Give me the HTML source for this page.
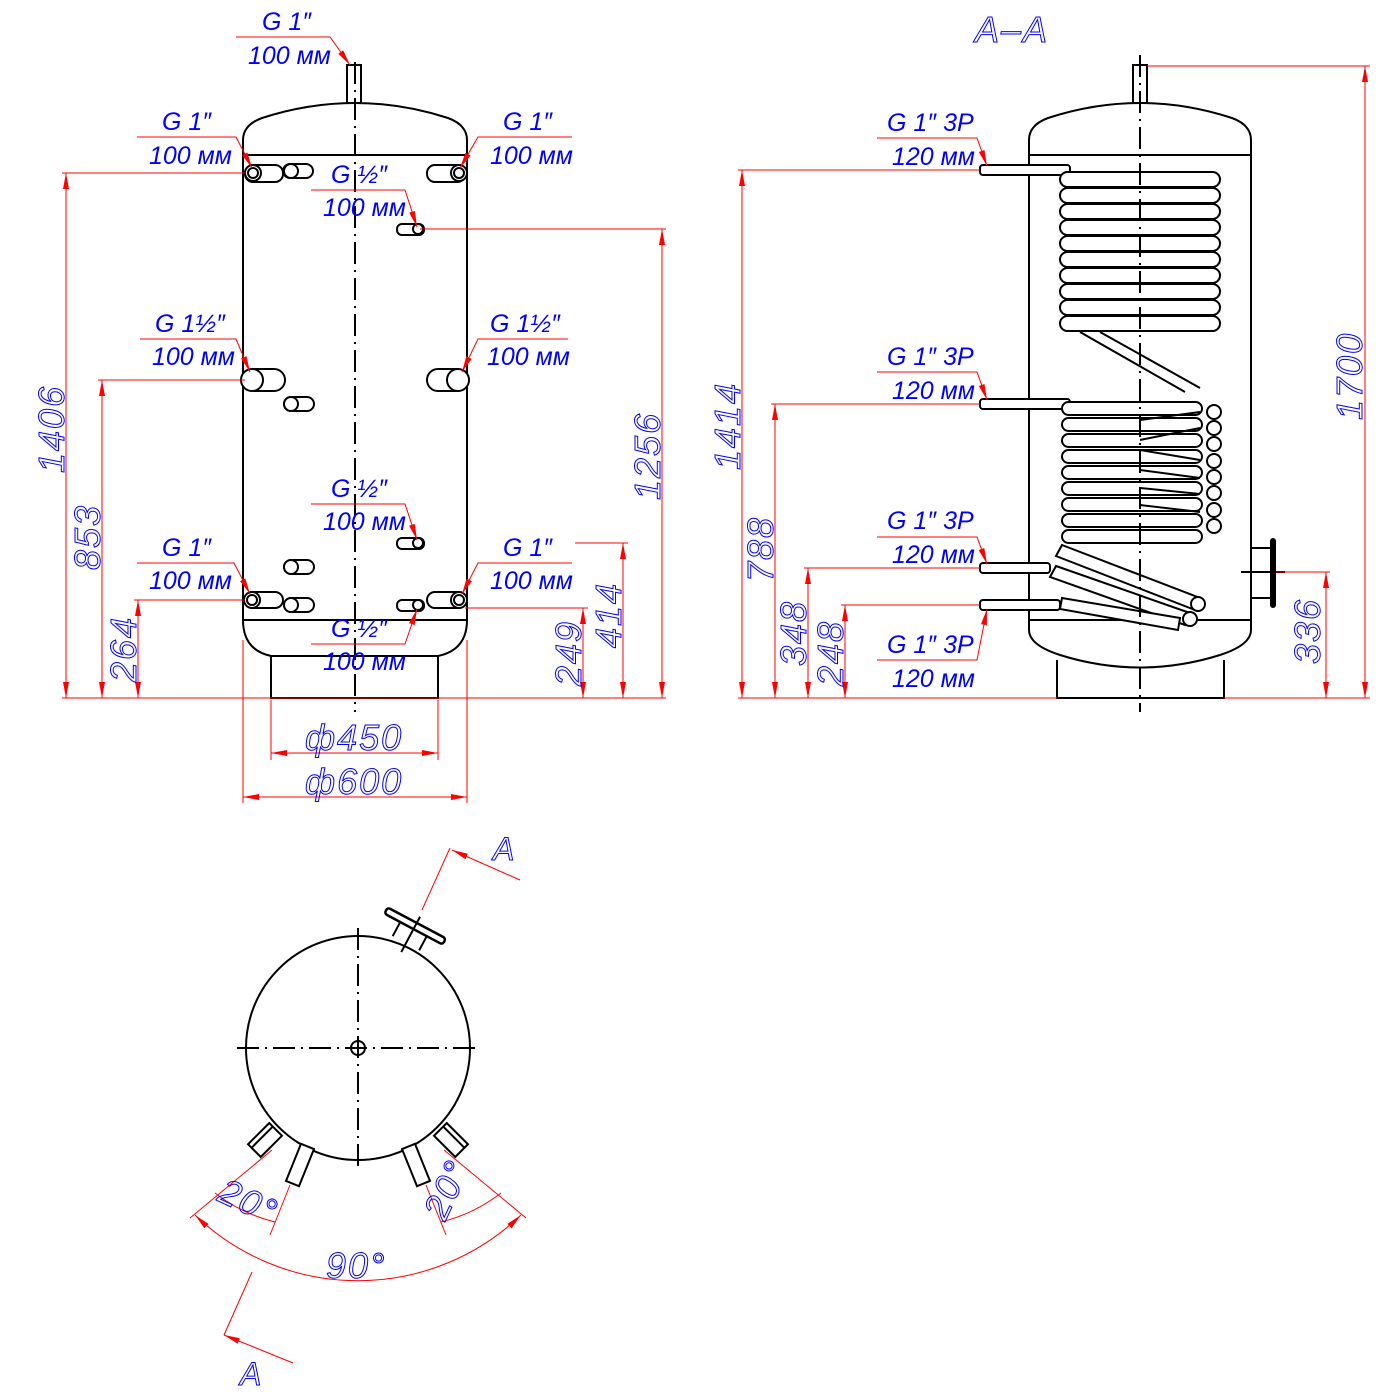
<!DOCTYPE html>
<html><head><meta charset="utf-8"><style>
html,body{margin:0;padding:0;background:#fff}
svg{display:block}
.k{stroke:#000;fill:none;stroke-width:2}
.kf{stroke:#000;fill:#fff;stroke-width:2}
.c{stroke:#000;stroke-width:2;stroke-dasharray:22 6 2 6;fill:none}
.r{stroke:#f00;stroke-width:1;fill:none}
.t{font-family:"Liberation Sans",sans-serif;font-style:italic;fill:#00f;font-size:25px}
.d{font-family:"Liberation Sans",sans-serif;font-style:italic;fill:none;stroke:#00f;stroke-width:1;font-size:36px;letter-spacing:2px}
</style></head><body>
<svg width="1400" height="1400" viewBox="0 0 1400 1400" xmlns="http://www.w3.org/2000/svg">
<defs>
<marker id="a" viewBox="0 0 16 6" refX="16" refY="3" markerWidth="16" markerHeight="6" orient="auto-start-reverse" markerUnits="userSpaceOnUse"><path d="M0,0L16,3L0,6z" fill="#f00"/></marker>
</defs>

<!-- ============ LEFT VIEW ============ -->
<path class="k" d="M243,620 V140 Q243,125 262,118 Q355,88 448,118 Q467,125 467,140 V620"/>
<line class="k" x1="243" y1="155" x2="467" y2="155"/>
<line class="k" x1="243" y1="620" x2="467" y2="620"/>
<path class="k" d="M243,620 Q243,650 271,656 L438,656 Q467,650 467,620"/>
<rect class="k" x="271" y="656" width="167" height="42"/>
<rect class="kf" x="347" y="65" width="14" height="38"/>
<line class="c" x1="355" y1="62" x2="355" y2="712"/>

<g class="kf">
<rect x="245" y="165" width="38" height="17" rx="8"/><circle cx="253" cy="173" r="8"/><circle cx="253" cy="173" r="5"/>
<rect x="283" y="164" width="30" height="14" rx="7"/><circle cx="291" cy="171" r="7"/>
<rect x="427" y="165" width="38" height="17" rx="8"/><circle cx="459" cy="173" r="8"/><circle cx="459" cy="173" r="5"/>
<rect x="397" y="224" width="27" height="11" rx="5"/><circle cx="418" cy="229" r="5"/>
<rect x="245" y="369" width="40" height="22" rx="11"/><circle cx="252" cy="380" r="11"/>
<rect x="427" y="369" width="40" height="22" rx="11"/><circle cx="458" cy="380" r="11"/>
<rect x="284" y="397" width="30" height="14" rx="7"/><circle cx="291" cy="404" r="7"/>
<rect x="397" y="538" width="27" height="11" rx="5"/><circle cx="418" cy="543" r="5"/>
<rect x="284" y="560" width="30" height="14" rx="7"/><circle cx="291" cy="567" r="7"/>
<rect x="245" y="592" width="38" height="16" rx="8"/><circle cx="252" cy="600" r="8"/><circle cx="252" cy="600" r="5"/>
<rect x="284" y="598" width="30" height="14" rx="7"/><circle cx="291" cy="605" r="7"/>
<rect x="397" y="600" width="27" height="11" rx="5"/><circle cx="418" cy="605" r="5"/>
<rect x="427" y="592" width="38" height="16" rx="8"/><circle cx="459" cy="600" r="8"/><circle cx="459" cy="600" r="5"/>
</g>

<g class="r">
<line x1="62" y1="698" x2="666" y2="698"/>
<line x1="62" y1="173" x2="245" y2="173"/>
<line x1="98" y1="380" x2="245" y2="380"/>
<line x1="134" y1="600" x2="245" y2="600"/>
<line x1="420" y1="229" x2="666" y2="229"/>
<line x1="575" y1="543" x2="628" y2="543"/>
<line x1="465" y1="608" x2="588" y2="608"/>
<line x1="66" y1="173" x2="66" y2="698" marker-start="url(#a)" marker-end="url(#a)"/>
<line x1="102" y1="380" x2="102" y2="698" marker-start="url(#a)" marker-end="url(#a)"/>
<line x1="138" y1="600" x2="138" y2="698" marker-start="url(#a)" marker-end="url(#a)"/>
<line x1="583" y1="608" x2="583" y2="698" marker-start="url(#a)" marker-end="url(#a)"/>
<line x1="623" y1="543" x2="623" y2="698" marker-start="url(#a)" marker-end="url(#a)"/>
<line x1="662" y1="229" x2="662" y2="698" marker-start="url(#a)" marker-end="url(#a)"/>
<line x1="271" y1="700" x2="271" y2="760"/><line x1="438" y1="700" x2="438" y2="760"/>
<line x1="243" y1="640" x2="243" y2="803"/><line x1="467" y1="640" x2="467" y2="803"/>
<line x1="271" y1="753" x2="438" y2="753" marker-start="url(#a)" marker-end="url(#a)"/>
<line x1="243" y1="797" x2="467" y2="797" marker-start="url(#a)" marker-end="url(#a)"/>
<polyline points="236,37 330,37 350,65" marker-end="url(#a)"/>
<polyline points="137,137 236,137 252,168" marker-end="url(#a)"/>
<polyline points="572,137 478,137 460,168" marker-end="url(#a)"/>
<polyline points="311,190 405,190 417,227" marker-end="url(#a)"/>
<polyline points="140,339 236,339 250,372" marker-end="url(#a)"/>
<polyline points="568,339 478,339 462,372" marker-end="url(#a)"/>
<polyline points="311,504 405,504 417,540" marker-end="url(#a)"/>
<polyline points="137,563 234,563 250,594" marker-end="url(#a)"/>
<polyline points="572,563 478,563 462,594" marker-end="url(#a)"/>
<polyline points="311,644 405,644 417,609" marker-end="url(#a)"/>
</g>
<g class="t">
<text x="262" y="30">G 1″</text><text x="248" y="64">100 мм</text>
<text x="162" y="130">G 1″</text><text x="149" y="164">100 мм</text>
<text x="503" y="130">G 1″</text><text x="490" y="164">100 мм</text>
<text x="331" y="183">G ½″</text><text x="323" y="216">100 мм</text>
<text x="155" y="332">G 1½″</text><text x="152" y="365">100 мм</text>
<text x="490" y="332">G 1½″</text><text x="487" y="365">100 мм</text>
<text x="331" y="497">G ½″</text><text x="323" y="530">100 мм</text>
<text x="162" y="556">G 1″</text><text x="149" y="589">100 мм</text>
<text x="503" y="556">G 1″</text><text x="490" y="589">100 мм</text>
<text x="331" y="637">G ½″</text><text x="323" y="670">100 мм</text>
</g>
<g class="d">
<text transform="translate(64,473) rotate(-90)">1406</text>
<text transform="translate(100,570) rotate(-90)">853</text>
<text transform="translate(136,682) rotate(-90)">264</text>
<text transform="translate(581,686) rotate(-90)">249</text>
<text transform="translate(621,648) rotate(-90)">414</text>
<text transform="translate(660,500) rotate(-90)">1256</text>
<text x="305" y="750">ф450</text>
<text x="305" y="794">ф600</text>
</g>

<!-- ============ RIGHT VIEW A-A ============ -->
<text class="d" x="975" y="42">A–A</text>
<path class="k" d="M1029,620 V140 Q1029,125 1048,118 Q1140,88 1232,118 Q1251,125 1251,140 V620"/>
<line class="k" x1="1029" y1="155" x2="1251" y2="155"/>
<line class="k" x1="1029" y1="620" x2="1251" y2="620"/>
<path class="k" d="M1029,620 V630 Q1029,645 1060,655 Q1140,680 1220,655 Q1251,645 1251,630 V620"/>
<polyline class="k" points="1057,660 1057,698 1224,698 1224,660"/>
<rect class="kf" x="1133" y="65" width="14" height="38"/>
<rect class="k" x="1251" y="548" width="20" height="50"/>
<rect x="1270" y="538" width="6" height="70" rx="3" fill="#000"/>
<line class="k" x1="1241" y1="572" x2="1285" y2="572"/>
<g class="kf">
<rect x="980" y="165" width="90" height="10" rx="3"/>
<rect x="980" y="399" width="90" height="10" rx="3"/>
<rect x="980" y="563" width="70" height="10" rx="3"/>
<rect x="980" y="600" width="80" height="10" rx="3"/>
</g>
<g class="kf">
<rect x="1060" y="172" width="160" height="15" rx="7.5"/>
<rect x="1060" y="188" width="160" height="15" rx="7.5"/>
<rect x="1060" y="204" width="160" height="15" rx="7.5"/>
<rect x="1060" y="220" width="160" height="15" rx="7.5"/>
<rect x="1060" y="236" width="160" height="15" rx="7.5"/>
<rect x="1060" y="252" width="160" height="15" rx="7.5"/>
<rect x="1060" y="268" width="160" height="15" rx="7.5"/>
<rect x="1060" y="284" width="160" height="15" rx="7.5"/>
<rect x="1060" y="300" width="160" height="15" rx="7.5"/>
<rect x="1060" y="316" width="160" height="15" rx="7.5"/>
</g>
<path class="k" d="M1080,332 L1185,392 M1100,332 L1200,388"/>
<g class="kf">
<rect x="1062" y="402" width="140" height="13" rx="6.5"/>
<rect x="1062" y="418" width="140" height="13" rx="6.5"/>
<rect x="1062" y="434" width="140" height="13" rx="6.5"/>
<rect x="1062" y="450" width="140" height="13" rx="6.5"/>
<rect x="1062" y="466" width="140" height="13" rx="6.5"/>
<rect x="1062" y="482" width="140" height="13" rx="6.5"/>
<rect x="1062" y="498" width="140" height="13" rx="6.5"/>
<rect x="1062" y="514" width="140" height="13" rx="6.5"/>
<rect x="1062" y="530" width="140" height="13" rx="6.5"/>
<circle cx="1214" cy="412" r="7"/><circle cx="1214" cy="428" r="7"/><circle cx="1214" cy="444" r="7"/><circle cx="1214" cy="461" r="7"/>
<circle cx="1214" cy="477" r="7"/><circle cx="1214" cy="493" r="7"/><circle cx="1214" cy="510" r="7"/><circle cx="1214" cy="526" r="7"/>
</g>
<path class="k" stroke-width="1.3" d="M1140,420 L1200,412 M1140,440 L1200,428 M1140,450 L1200,460 M1140,470 L1200,478 M1140,488 L1200,494 M1140,505 L1200,512"/>
<g class="kf">
<path d="M1062,545 L1200,598 L1195,610 L1056,556 Z"/>
<path d="M1056,566 L1190,613 L1185,625 L1050,577 Z"/>
<path d="M1062,598 L1180,618 L1178,630 L1060,609 Z"/>
</g>
<circle class="kf" cx="1198" cy="604" r="7"/><circle class="kf" cx="1190" cy="619" r="7"/>
<line class="c" x1="1140" y1="55" x2="1140" y2="712"/>

<g class="r">
<line x1="738" y1="698" x2="1057" y2="698"/><line x1="1224" y1="698" x2="1370" y2="698"/>
<line x1="1147" y1="66" x2="1370" y2="66"/>
<line x1="738" y1="170" x2="980" y2="170"/>
<line x1="771" y1="404" x2="980" y2="404"/>
<line x1="804" y1="568" x2="980" y2="568"/>
<line x1="841" y1="605" x2="980" y2="605"/>
<line x1="1276" y1="572" x2="1330" y2="572"/>
<line x1="1365" y1="66" x2="1365" y2="698" marker-start="url(#a)" marker-end="url(#a)"/>
<line x1="1326" y1="572" x2="1326" y2="698" marker-start="url(#a)" marker-end="url(#a)"/>
<line x1="742" y1="170" x2="742" y2="698" marker-start="url(#a)" marker-end="url(#a)"/>
<line x1="775" y1="404" x2="775" y2="698" marker-start="url(#a)" marker-end="url(#a)"/>
<line x1="808" y1="568" x2="808" y2="698" marker-start="url(#a)" marker-end="url(#a)"/>
<line x1="845" y1="605" x2="845" y2="698" marker-start="url(#a)" marker-end="url(#a)"/>
<polyline points="877,138 977,138 987,166" marker-end="url(#a)"/>
<polyline points="877,372 977,372 987,400" marker-end="url(#a)"/>
<polyline points="877,537 977,537 987,564" marker-end="url(#a)"/>
<polyline points="877,660 977,660 987,609" marker-end="url(#a)"/>
</g>
<g class="t">
<text x="887" y="131">G 1″ 3P</text><text x="892" y="165">120 мм</text>
<text x="887" y="365">G 1″ 3P</text><text x="892" y="399">120 мм</text>
<text x="887" y="529">G 1″ 3P</text><text x="892" y="563">120 мм</text>
<text x="887" y="653">G 1″ 3P</text><text x="892" y="687">120 мм</text>
</g>
<g class="d">
<text transform="translate(740,470) rotate(-90)">1414</text>
<text transform="translate(773,582) rotate(-90)">788</text>
<text transform="translate(806,666) rotate(-90)">348</text>
<text transform="translate(843,686) rotate(-90)">248</text>
<text transform="translate(1320,664) rotate(-90)">336</text>
<text transform="translate(1362,420) rotate(-90)">1700</text>
</g>

<!-- ============ TOP VIEW ============ -->
<circle class="k" cx="358" cy="1048" r="112"/>
<circle class="k" cx="358" cy="1048" r="7"/><circle cx="358" cy="1048" r="1.5" fill="#000"/>
<line class="c" x1="358" y1="928" x2="358" y2="1168"/>
<line class="c" x1="237" y1="1048" x2="480" y2="1048"/>
<g transform="rotate(28 413 930)">
<line class="k" x1="398" y1="930" x2="398" y2="945"/><line class="k" x1="428" y1="930" x2="428" y2="945"/>
<rect x="380" y="922" width="66" height="7" rx="3" fill="#fff" stroke="#000" stroke-width="2.5"/>
<line class="k" x1="413" y1="915" x2="413" y2="955"/>
</g>
<g transform="rotate(45 265 1140)"><rect class="kf" x="256" y="1125" width="18" height="30"/><line class="k" x1="261" y1="1125" x2="261" y2="1155"/></g>
<g transform="rotate(22 300 1165)"><rect class="kf" x="293" y="1145" width="14" height="40"/></g>
<g transform="rotate(-45 451 1140)"><rect class="kf" x="442" y="1125" width="18" height="30"/><line class="k" x1="455" y1="1125" x2="455" y2="1155"/></g>
<g transform="rotate(-22 416 1165)"><rect class="kf" x="409" y="1145" width="14" height="40"/></g>
<g class="r" stroke-width="2">
<line x1="422" y1="910" x2="450" y2="848"/>
<line x1="252" y1="1272" x2="224" y2="1335"/>
</g>
<g class="r">
<line x1="520" y1="880" x2="452" y2="850" marker-end="url(#a)"/>
<line x1="293" y1="1363" x2="224" y2="1335" marker-end="url(#a)"/>
<path d="M195,1215 A235,235 0 0 0 521,1215" marker-start="url(#a)" marker-end="url(#a)"/>
<line x1="272" y1="1150" x2="190" y2="1218"/>
<line x1="444" y1="1150" x2="526" y2="1218"/>
<line x1="290" y1="1185" x2="270" y2="1235"/>
<line x1="426" y1="1185" x2="446" y2="1235"/>
<path d="M215,1193 A160,160 0 0 0 275,1222"/>
<path d="M501,1193 A160,160 0 0 1 441,1222"/>
</g>
<g class="d">
<text x="493" y="860" font-size="32">A</text>
<text x="240" y="1385" font-size="32">A</text>
<text x="326" y="1278">90°</text>
<text transform="translate(216,1200) rotate(25)">20°</text>
<text transform="translate(445,1222) rotate(-65)">20°</text>
</g>
</svg>
</body></html>
